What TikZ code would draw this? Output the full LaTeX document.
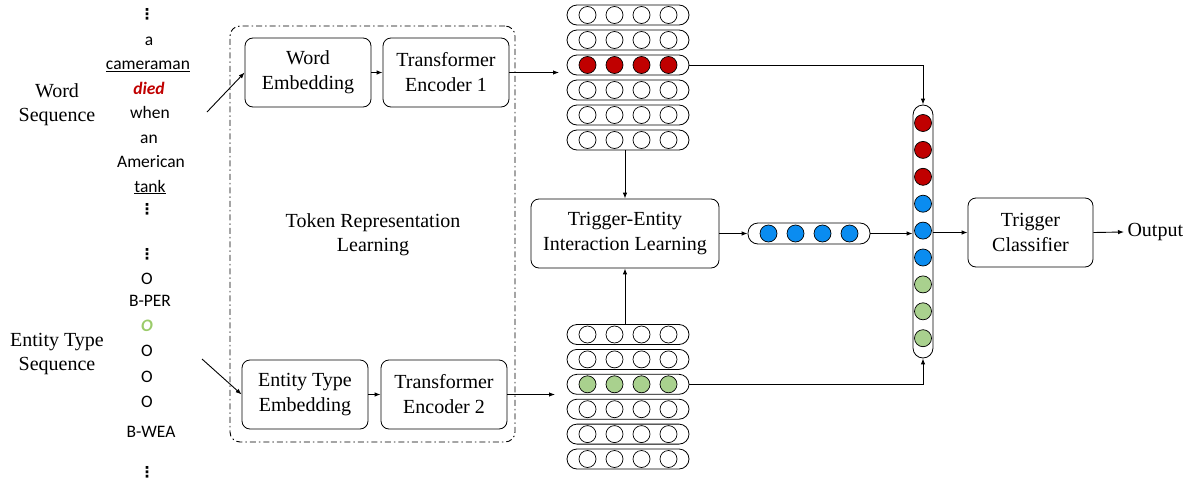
\documentclass[tikz,border=0pt]{standalone}
\usepackage{fontspec}
\setmainfont{Liberation Serif}
\newfontfamily\wfont{Carlito}
\newfontfamily\dvfont{DejaVu Sans}
\usetikzlibrary{arrows.meta}
\definecolor{myred}{HTML}{C00000}
\definecolor{myblue}{HTML}{0A8CF0}
\definecolor{mygreen}{HTML}{A9D18E}
\definecolor{txtgreen}{HTML}{9BCB6A}
\begin{document}
\begin{tikzpicture}[x=1pt,y=-1pt,
  box/.style={draw, rounded corners=8pt, line width=0.8pt, align=center,
    font=\fontsize{20}{25}\selectfont, inner sep=0pt, minimum height=69pt},
  lbl/.style={font=\fontsize{20}{24}\selectfont, align=center},
  wd/.style={font=\wfont\fontsize{17.5}{20}\selectfont, anchor=base, inner sep=0pt},
  vd/.style={font=\dvfont\bfseries\fontsize{15}{15}\selectfont, inner sep=0pt},
  capsule/.style={draw, rounded corners=10pt, line width=0.8pt, inner sep=0pt},
  ball/.style={circle, draw, minimum size=17pt, inner sep=0pt, line width=0.7pt},
  arr/.style={-{Latex[length=6pt,width=4.5pt]}, line width=0.9pt},
  frame/.style={draw, line width=0.9pt, rounded corners=10pt,
    dash pattern=on 6pt off 3pt on 1.5pt off 3pt}
]
\useasboundingbox (0,0) rectangle (1195,482);

% left labels
\node[lbl] (wseq) at (57,104.5) {Word\\Sequence};
\node[lbl] (eseq) at (57,354) {Entity Type\\Sequence};

% word list
\node[vd] (w0) at (147,14) {⋮};
\node[wd] (w1) at (149,45) {a};
\node[wd] (w2) at (148,69.5) {\underline{cameraman}};
\node[wd] (w3) at (149,94) {\textcolor{myred}{\bfseries\itshape died}};
\node[wd] (w4) at (150,118.5) {when};
\node[wd] (w5) at (149,143) {an};
\node[wd] (w6) at (151,167.5) {American};
\node[wd] (w7) at (150,192) {\underline{tank}};
\node[vd] (w8) at (147,209) {⋮};

% entity type list
\node[vd] (e0) at (147,254) {⋮};
\node[wd] (e1) at (147,284) {O};
\node[wd] (e2) at (150,306) {B-PER};
\node[wd] (e3) at (147,331) {\textcolor{txtgreen}{\bfseries\itshape O}};
\node[wd] (e4) at (147,356) {O};
\node[wd] (e5) at (147,382) {O};
\node[wd] (e6) at (147,407) {O};
\node[wd] (e7) at (151,437) {B-WEA};
\node[vd] (e8) at (147,472) {⋮};

% token representation frame
\node[frame, minimum width=285pt, minimum height=416pt] (trl) at (372.5,234) {};
\node[lbl] (tok) at (373,235) {Token Representation\\Learning};

\node[box, minimum width=126pt] (we) at (308,72.5) {Word\\Embedding};
\node[box, minimum width=126pt] (te1) at (446,72.5) {Transformer\\Encoder 1};
\node[box, minimum width=126pt] (ete) at (305,394.5) {Entity Type\\Embedding};
\node[box, minimum width=126pt] (te2) at (444,394.5) {Transformer\\Encoder 2};

\coordinate (ws) at (207,112);
\coordinate (es) at (202,359);
\draw[arr] (ws) -- (we.west);
\draw[arr] (es) -- (ete.west);
\draw[arr] (we.east) -- (te1.west);
\draw[arr] (ete.east) -- (te2.west);

% upper stack
\foreach \r in {1,...,6} {
  \node[capsule, minimum width=122pt, minimum height=20pt] (u\r) at (628,{15+25*(\r-1)}) {};
  \foreach \c/\dx in {1/-40.5,2/-13.5,3/13.5,4/40.5} {
    \ifnum\r=3
      \node[ball, fill=myred] (u\r c\c) at (628+\dx,{15+25*(\r-1)}) {};
    \else
      \node[ball] (u\r c\c) at (628+\dx,{15+25*(\r-1)}) {};
    \fi
  }
}
% lower stack
\foreach \r in {1,...,6} {
  \node[capsule, minimum width=122pt, minimum height=20pt] (l\r) at (628,{334.5+24.9*(\r-1)}) {};
  \foreach \c/\dx in {1/-40.5,2/-13.5,3/13.5,4/40.5} {
    \ifnum\r=3
      \node[ball, fill=mygreen] (l\r c\c) at (628+\dx,{334.5+24.9*(\r-1)}) {};
    \else
      \node[ball] (l\r c\c) at (628+\dx,{334.5+24.9*(\r-1)}) {};
    \fi
  }
}

\coordinate (uin) at (559,72.5);
\coordinate (lin) at (555,394.5);
\draw[arr] (te1.east) -- (uin);
\draw[arr] (te2.east) -- (lin);

% interaction
\node[box, minimum width=188pt] (teil) at (625,233.5) {Trigger-Entity\\Interaction Learning};
\draw[arr] (teil.north |- u6.south) -- (teil.north);
\draw[arr] (teil.south |- l1.north) -- (teil.south);

\node[capsule, minimum width=122pt, minimum height=21pt] (bv) at (809,233.5) {};
\foreach \c/\dx in {1/-40.5,2/-13.5,3/13.5,4/40.5}
  \node[ball, fill=myblue] (bv\c) at (809+\dx,233.5) {};

% concatenated vector
\node[capsule, minimum width=20pt, minimum height=253pt] (cat) at (923,231.5) {};
\foreach \k in {1,...,9} {
  \ifnum\k<4
    \node[ball, fill=myred] (cat\k) at (923,{123+26.9*(\k-1)}) {};
  \else\ifnum\k<7
    \node[ball, fill=myblue] (cat\k) at (923,{123+26.9*(\k-1)}) {};
  \else
    \node[ball, fill=mygreen] (cat\k) at (923,{123+26.9*(\k-1)}) {};
  \fi\fi
}

\draw[arr] (teil.east) -- (bv.west);
\draw[arr] (bv.east) -- (bv.east -| cat.west);
\draw[arr] (u3.east) -| (cat.north);
\draw[arr] (l3.east) -| (cat.south);

\node[box, minimum width=125pt] (tc) at (1030.5,232.5) {Trigger\\Classifier};
\node[lbl, anchor=west] (out) at (1124,232) {Output};
\draw[arr] (tc.west -| cat.east) -- (tc.west);
\draw[arr] (tc.east) -- (out.west);
\end{tikzpicture}
\end{document}
